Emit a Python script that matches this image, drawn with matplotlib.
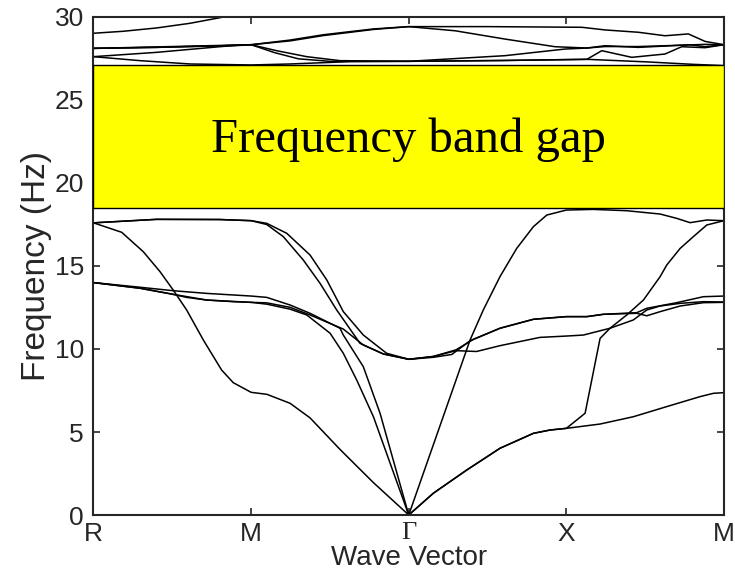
import matplotlib
matplotlib.use("Agg")
import matplotlib.pyplot as plt
from matplotlib.patches import Rectangle

plt.rcParams["font.family"] = ["Liberation Sans Narrow", "Liberation Sans", "DejaVu Sans"]

k_ticks = [0, 1, 2, 3, 4]
k_labels = ["R", "M", "Γ", "X", "M"]

# band gap limits (Hz)
gap_low = 18.5
gap_high = 27.1

# bands below the gap, (k, frequency) pairs
band1 = [(0, 17.6), (0.179, 17.03), (0.316, 15.86), (0.422, 14.66), (0.506, 13.55), (0.591, 12.35),
         (0.697, 10.54), (0.813, 8.73), (0.887, 7.97), (1.0, 7.39), (1.10, 7.27), (1.247, 6.73),
         (1.374, 5.85), (1.564, 3.95), (1.776, 1.95), (2.0, 0.0),
         (2.156, 1.31), (2.368, 2.71), (2.579, 4.02), (2.791, 4.92), (2.897, 5.12), (3.0, 5.22),
         (3.214, 5.48), (3.425, 5.92), (3.637, 6.53), (3.848, 7.13), (3.933, 7.33), (4.0, 7.37)]
band2 = [(0, 14.0), (0.295, 13.66), (0.496, 13.31), (0.591, 13.11), (0.718, 12.95), (0.887, 12.85),
         (1.0, 12.81), (1.10, 12.7), (1.247, 12.4), (1.353, 12.05), (1.501, 10.95), (1.585, 9.74),
         (1.670, 8.13), (1.776, 5.92), (2.0, 0.0),
         (2.156, 1.31), (2.368, 2.71), (2.579, 4.02), (2.791, 4.92), (2.897, 5.12), (3.0, 5.22),
         (3.119, 6.13), (3.214, 10.64), (3.277, 11.25), (3.383, 12.05), (3.489, 12.95), (3.595, 14.36),
         (3.637, 15.06), (3.722, 16.06), (3.806, 16.77), (3.891, 17.47), (4.0, 17.73)]
band3 = [(0, 14.0), (0.295, 13.72), (0.507, 13.51), (0.718, 13.35), (1.0, 13.19), (1.099, 13.11),
         (1.247, 12.65), (1.374, 12.15), (1.564, 11.25), (1.585, 10.84), (1.712, 8.93), (1.818, 6.13),
         (2.0, 0.0), (2.389, 10.54), (2.473, 12.35), (2.579, 14.36), (2.685, 16.06), (2.791, 17.37),
         (2.876, 18.07), (3.0, 18.37), (3.171, 18.41), (3.383, 18.33), (3.595, 18.13), (3.7, 17.87),
         (3.785, 17.61), (3.891, 17.77), (4.0, 17.73)]
band4 = [(0, 14.0), (0.295, 13.66), (0.496, 13.31), (0.718, 12.95), (1.0, 12.81), (1.099, 12.78),
         (1.247, 12.51), (1.374, 12.05), (1.585, 11.2), (1.712, 10.24), (1.839, 9.70), (2.0, 9.38),
         (2.156, 9.55), (2.30, 9.95), (2.41, 10.58), (2.579, 11.25), (2.791, 11.79), (3.0, 11.95),
         (3.13, 11.95), (3.235, 12.09), (3.447, 12.19), (3.51, 12.45), (3.70, 12.79), (3.869, 13.15),
         (4.0, 13.19)]
band5 = [(0, 17.6), (0.4, 17.81), (0.8, 17.80), (1.0, 17.73), (1.099, 17.57), (1.226, 16.97),
         (1.374, 15.66), (1.48, 14.16), (1.585, 12.25), (1.712, 10.84), (1.86, 9.74), (2.0, 9.38),
         (2.156, 9.50), (2.273, 9.67), (2.39, 10.5), (2.579, 11.25), (2.791, 11.79), (3.0, 11.95),
         (3.13, 11.95), (3.235, 12.09), (3.447, 12.15), (3.51, 12.0), (3.595, 12.25), (3.722, 12.59),
         (3.869, 12.79), (4.0, 12.81)]
band6 = [(0, 17.6), (0.4, 17.81), (0.8, 17.80), (1.0, 17.73), (1.099, 17.5), (1.204, 16.77),
         (1.331, 15.36), (1.437, 13.96), (1.543, 12.35), (1.691, 10.34), (1.839, 9.70), (2.0, 9.38),
         (2.156, 9.55), (2.30, 9.9), (2.43, 9.85), (2.579, 10.20), (2.833, 10.70), (3.0, 10.78),
         (3.108, 10.84), (3.277, 11.25), (3.425, 11.75), (3.51, 12.35), (3.595, 12.59), (3.722, 12.75),
         (3.869, 12.85), (4.0, 12.83)]

# bands above the gap
band7 = [(0, 29.02), (0.189, 29.14), (0.401, 29.34), (0.612, 29.62), (0.792, 29.94), (1.0, 30.35)]
band8 = [(0, 28.11), (0.4, 28.17), (0.824, 28.27), (1.0, 28.33), (1.247, 28.61), (1.458, 28.93),
         (1.776, 29.28), (2.0, 29.42), (2.5, 29.42), (3.098, 29.38), (3.246, 29.22), (3.457, 29.08),
         (3.626, 28.87), (3.774, 28.98), (3.88, 28.53), (4.0, 28.33)]
band9 = [(0, 28.11), (0.4, 28.17), (0.824, 28.27), (1.0, 28.33), (1.247, 28.56), (1.458, 28.88),
         (1.776, 29.25), (2.0, 29.42), (2.294, 29.17), (2.611, 28.67), (2.928, 28.21), (3.13, 28.13),
         (3.246, 28.27), (3.457, 28.17), (3.669, 28.27), (3.78, 28.33), (3.88, 28.21), (4.0, 28.33)]
band10 = [(0, 27.61), (0.4, 27.87), (0.824, 28.23), (1.0, 28.33), (1.162, 27.97), (1.353, 27.61),
          (1.564, 27.37), (2.0, 27.33), (2.611, 27.67), (2.992, 28.07), (3.13, 28.13), (3.246, 28.22),
          (3.457, 28.22), (3.73, 28.30), (3.88, 28.35), (4.0, 28.33)]
band11 = [(0, 27.61), (0.295, 27.37), (0.612, 27.17), (1.0, 27.11), (1.247, 27.17), (1.627, 27.31),
          (2.0, 27.33), (2.6, 27.38), (3.13, 27.45), (3.5, 27.3), (3.8, 27.15), (4.0, 27.07)]
band12 = [(0, 28.11), (1.0, 28.33), (1.15, 27.85), (1.3, 27.48), (1.5, 27.33), (2.0, 27.33),
          (2.6, 27.38), (3.13, 27.45), (3.225, 27.97), (3.415, 27.57), (3.626, 27.77), (3.732, 28.21),
          (3.88, 28.15), (4.0, 28.33)]

bands = [band1, band2, band3, band4, band5, band6,
         band7, band8, band9, band10, band11, band12]

fig = plt.figure(figsize=(7.35, 5.76), dpi=100)
ax = fig.add_axes([0.1272, 0.1059, 0.8578, 0.8646])

for band in bands:
    k, f = zip(*band)
    ax.plot(k, f, color="black", lw=1.1, zorder=2)

ax.add_patch(Rectangle((0, gap_low), 4, gap_high - gap_low, facecolor="#ffff00",
                       edgecolor="black", lw=1.0, zorder=3))
ax.text(2, 22.6, "Frequency band gap", ha="center", va="center",
        fontsize=35, family="Liberation Serif", zorder=4)

ax.set_xlim(0, 4)
ax.set_ylim(0, 30)
ax.set_xticks(k_ticks)
ax.set_xticklabels(k_labels)
ax.get_xticklabels()[2].set_family("Liberation Serif")
ax.set_yticks([0, 5, 10, 15, 20, 25, 30])
ax.tick_params(direction="in", length=5, width=1.2, top=True, right=True,
               labelsize=19, colors="#262626", pad=7)
ax.tick_params(axis="x", pad=5)
for s in ax.spines.values():
    s.set_linewidth(1.5)
    s.set_color("#262626")
ax.set_xlabel("Wave Vector", fontsize=20, color="#262626", labelpad=-1)
ax.set_ylabel("Frequency (Hz)", fontsize=24, color="#262626", labelpad=2)

fig.savefig("out.png", dpi=100)
